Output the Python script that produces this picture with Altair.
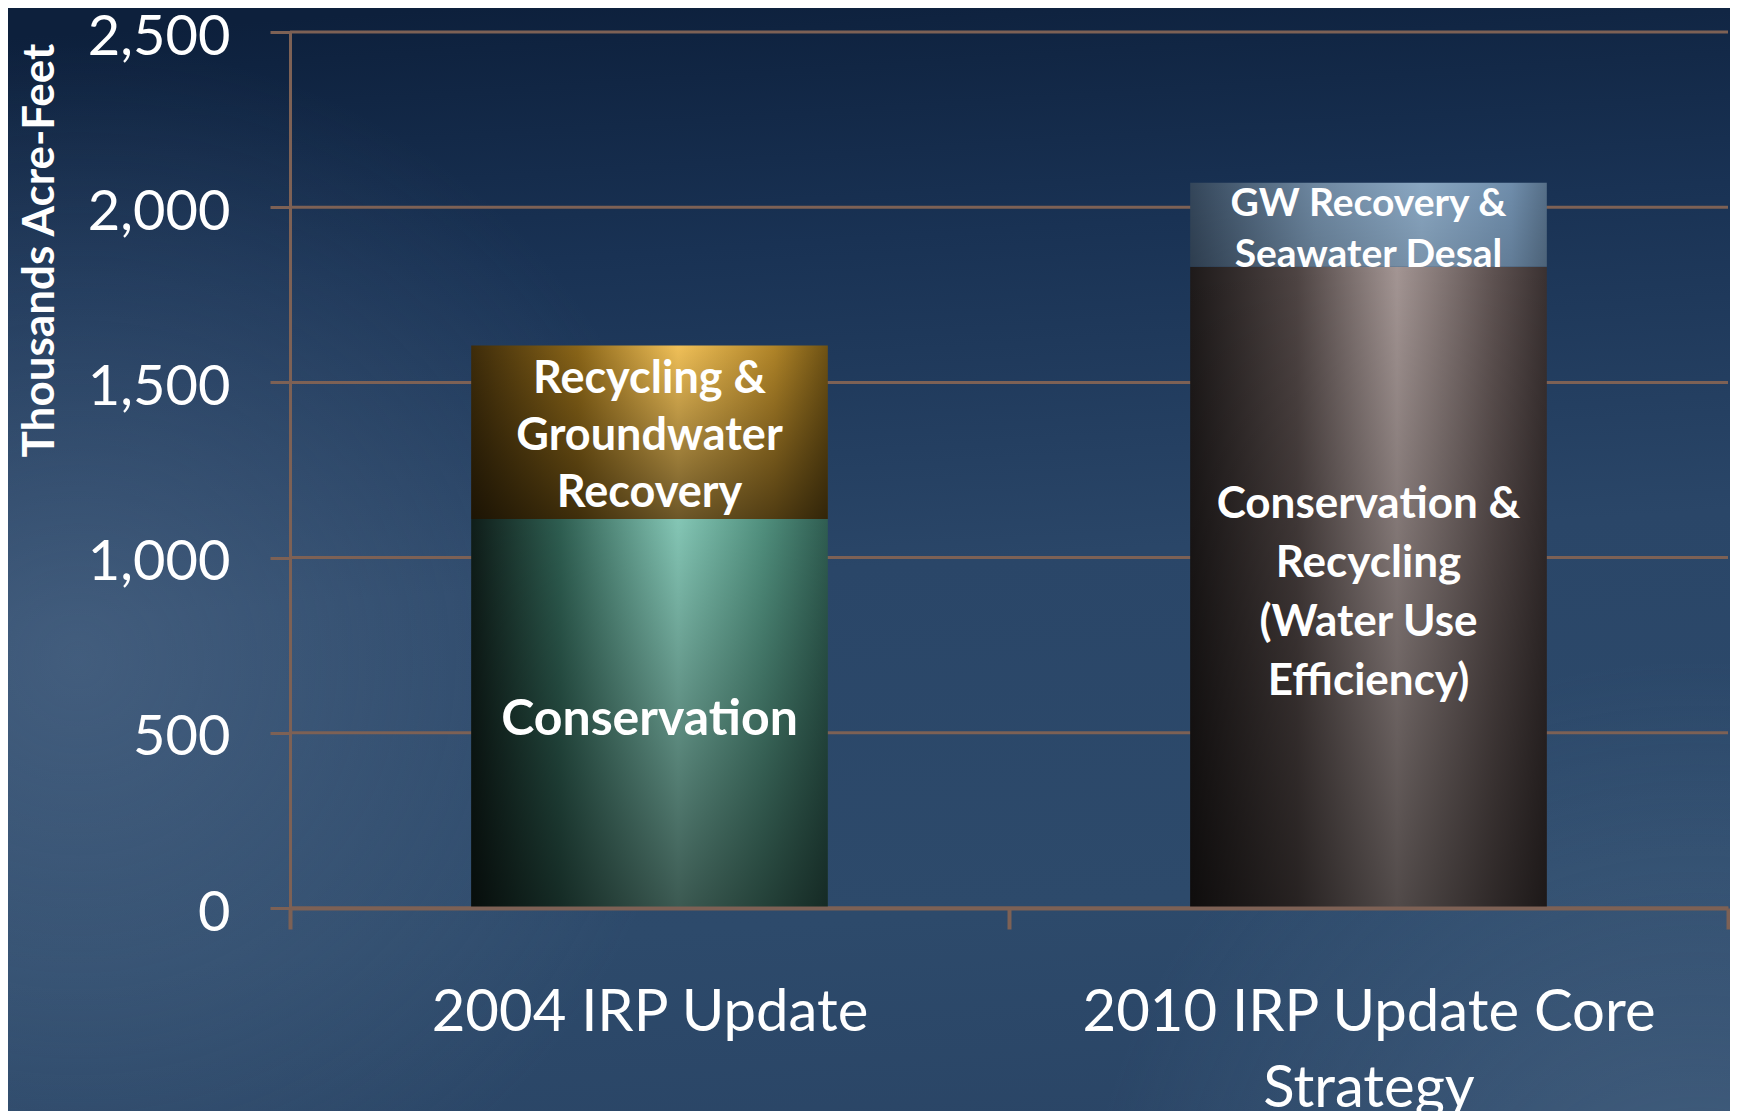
import altair as alt
import pandas as pd

# ---------------- data ----------------
categories = ["2004 IRP Update", "2010 IRP Update Core Strategy"]
x_label_lines = {
    "2004 IRP Update": ["2004 IRP Update"],
    "2010 IRP Update Core Strategy": ["2010 IRP Update Core", "Strategy"],
}
segment_category = [
    "2004 IRP Update",
    "2004 IRP Update",
    "2010 IRP Update Core Strategy",
    "2010 IRP Update Core Strategy",
]
segment_name = [
    "Conservation",
    "Recycling & Groundwater Recovery",
    "Conservation & Recycling (Water Use Efficiency)",
    "GW Recovery & Seawater Desal",
]
segment_value = [1110, 495, 1830, 240]
segment_label = [
    "Conservation",
    "Recycling &\nGroundwater\nRecovery",
    "Conservation &\nRecycling\n(Water Use\nEfficiency)",
    "GW Recovery &\nSeawater Desal",
]
y_ticks = [0, 500, 1000, 1500, 2000, 2500]

df = pd.DataFrame(
    {
        "category": segment_category,
        "segment": segment_name,
        "value": segment_value,
        "label": segment_label,
    }
)
df["end"] = df.groupby("category")["value"].cumsum()
df["start"] = df["end"] - df["value"]
df["mid"] = (df["start"] + df["end"]) / 2

# ---------------- styles ----------------
BROWN = "#7d6155"
FONT = "Lato"


def hgrad(colors):
    stops = [alt.GradientStop(color=c, offset=o) for o, c in colors]
    return alt.LinearGradient(gradient="linear", stops=stops, x1=0, x2=1, y1=0, y2=0)


def vshade(alpha_top, alpha_bottom):
    return alt.LinearGradient(
        gradient="linear",
        stops=[
            alt.GradientStop(color=f"rgba(0,0,0,{alpha_top})", offset=0),
            alt.GradientStop(color=f"rgba(0,0,0,{alpha_bottom})", offset=1),
        ],
        x1=0, x2=0, y1=0, y2=1,
    )


styles = {
    "Conservation": dict(
        fill=hgrad([(0, "#0f1d19"), (0.25, "#2e5e51"), (0.58, "#84c6b5"), (0.82, "#508f7d"), (1, "#2f5d51")]),
        shade=vshade(0.0, 0.55),
        fontSize=50, lineHeight=58, dy=6,
    ),
    "Recycling & Groundwater Recovery": dict(
        fill=hgrad([(0, "#3e2c0a"), (0.3, "#8a6518"), (0.58, "#f0c058"), (0.85, "#b08428"), (1, "#6e5214")]),
        shade=vshade(0.0, 0.55),
        fontSize=45, lineHeight=57, dy=4,
    ),
    "Conservation & Recycling (Water Use Efficiency)": dict(
        fill=hgrad([(0, "#1e1a1a"), (0.3, "#4e4443"), (0.58, "#a39593"), (0.85, "#5e5251"), (1, "#3a3131")]),
        shade=vshade(0.0, 0.5),
        fontSize=44, lineHeight=59, dy=6,
    ),
    "GW Recovery & Seawater Desal": dict(
        fill=hgrad([(0, "#34465a"), (0.35, "#6d87a0"), (0.65, "#8aa7c2"), (0.9, "#6f8dab"), (1, "#566f88")]),
        shade=vshade(0.0, 0.12),
        fontSize=39, lineHeight=51, dy=5,
    ),
}

# ---------------- scales / axes ----------------
label_expr = " : ".join(
    [
        f"datum.value == '{k}' ? [" + ", ".join(f"'{s}'" for s in v) + "]"
        for k, v in x_label_lines.items()
    ]
    + ["datum.value"]
)

x_scale = alt.Scale(domain=categories, paddingInner=0, paddingOuter=0)
y_scale = alt.Scale(domain=[0, 2500], nice=False)

x_axis = alt.Axis(
    title=None,
    labelExpr=label_expr,
    labelAngle=0,
    labelFont=FONT,
    labelFontSize=58,
    labelColor="white",
    labelPadding=55,
    labelLineHeight=76,
    labelBaseline="top",
    labelLimit=2000,
    tickBand="extent",
    tickSize=21,
    tickWidth=4,
    tickColor=BROWN,
    domainColor=BROWN,
    domainWidth=4,
    grid=False,
    zindex=1,
)

y_axis = alt.Axis(
    title="Thousands Acre-Feet",
    values=y_ticks,
    format=",d",
    labelFont=FONT,
    labelFontSize=56,
    labelColor="white",
    labelPadding=40,
    labelBaseline="middle",
    labelOffset=5,
    labelLimit=2000,
    tickSize=20,
    tickWidth=3,
    tickColor=BROWN,
    domainColor=BROWN,
    domainWidth=3,
    grid=False,
    titleFont=FONT,
    titleFontWeight="bold",
    titleFontSize=44,
    titleColor="white",
    titleAngle=270,
    titleX=-250,
    titleY=218,
    titleAlign="center",
    titleBaseline="middle",
    zindex=1,
)

X = alt.X("category:N", scale=x_scale, axis=x_axis, sort=categories)
Y = alt.Y("start:Q", scale=y_scale, axis=y_axis)

# ---------------- background ----------------
bg_grad = alt.LinearGradient(
    gradient="linear",
    stops=[
        alt.GradientStop(color="#0d203c", offset=0),
        alt.GradientStop(color="#193254", offset=0.22),
        alt.GradientStop(color="#2a4668", offset=0.5),
        alt.GradientStop(color="#2d4a6b", offset=0.8),
        alt.GradientStop(color="#2a4566", offset=1),
    ],
    x1=0.4, x2=0.5, y1=0, y2=1,
)
blob_left = alt.RadialGradient(
    gradient="radial",
    stops=[
        alt.GradientStop(color="rgba(95,120,150,0.45)", offset=0),
        alt.GradientStop(color="rgba(95,120,150,0)", offset=1),
    ],
    x1=0.05, y1=0.55, r1=0, x2=0.05, y2=0.55, r2=0.35,
)
blob_right = alt.RadialGradient(
    gradient="radial",
    stops=[
        alt.GradientStop(color="rgba(100,130,160,0.45)", offset=0),
        alt.GradientStop(color="rgba(100,130,160,0)", offset=1),
    ],
    x1=0.97, y1=0.9, r1=0, x2=0.97, y2=0.9, r2=0.35,
)

one = pd.DataFrame({"k": [0]})
bg_layers = [
    alt.Chart(one)
    .mark_rect(fill=g, strokeWidth=0)
    .encode(x=alt.value(-300), x2=alt.value(1460), y=alt.value(-40), y2=alt.value(1120))
    for g in (bg_grad, blob_left, blob_right)
]

grid = (
    alt.Chart(pd.DataFrame({"tick": y_ticks}))
    .mark_rule(color=BROWN, strokeWidth=3)
    .encode(y=alt.Y("tick:Q", scale=y_scale, axis=y_axis))
)

BAR_BAND = 0.496

layers = bg_layers + [grid]
for seg, lab in zip(segment_name, segment_label):
    st = styles[seg]
    n_lines = lab.count("\n") + 1
    base = alt.Chart(df).transform_filter(alt.datum.segment == seg)
    layers.append(
        base.mark_bar(fill=st["fill"], strokeWidth=0, width={"band": BAR_BAND})
        .encode(x=X, y=Y, y2="end:Q")
    )
    layers.append(
        base.mark_bar(fill=st["shade"], strokeWidth=0, width={"band": BAR_BAND})
        .encode(x=X, y=Y, y2="end:Q")
    )
    layers.append(
        base.mark_text(
            font=FONT,
            fontWeight="bold",
            fontSize=st["fontSize"],
            lineHeight=st["lineHeight"],
            lineBreak="\n",
            color="white",
            align="center",
            baseline="middle",
            dy=st["dy"] - (n_lines - 1) * st["lineHeight"] / 2,
        ).encode(
            x=X,
            y=alt.Y("mid:Q", scale=y_scale, axis=y_axis),
            text="label:N",
        )
    )

chart = (
    alt.layer(*layers)
    .properties(
        width=1438,
        height=876,
        autosize=alt.AutoSizeParams(type="none"),
        padding={"left": 282, "top": 24, "right": 2, "bottom": 203},
        background="#2a4566",
    )
    .configure_view(stroke=None)
)

chart.save("out.html", embed_options={"renderer": "svg", "actions": False})
